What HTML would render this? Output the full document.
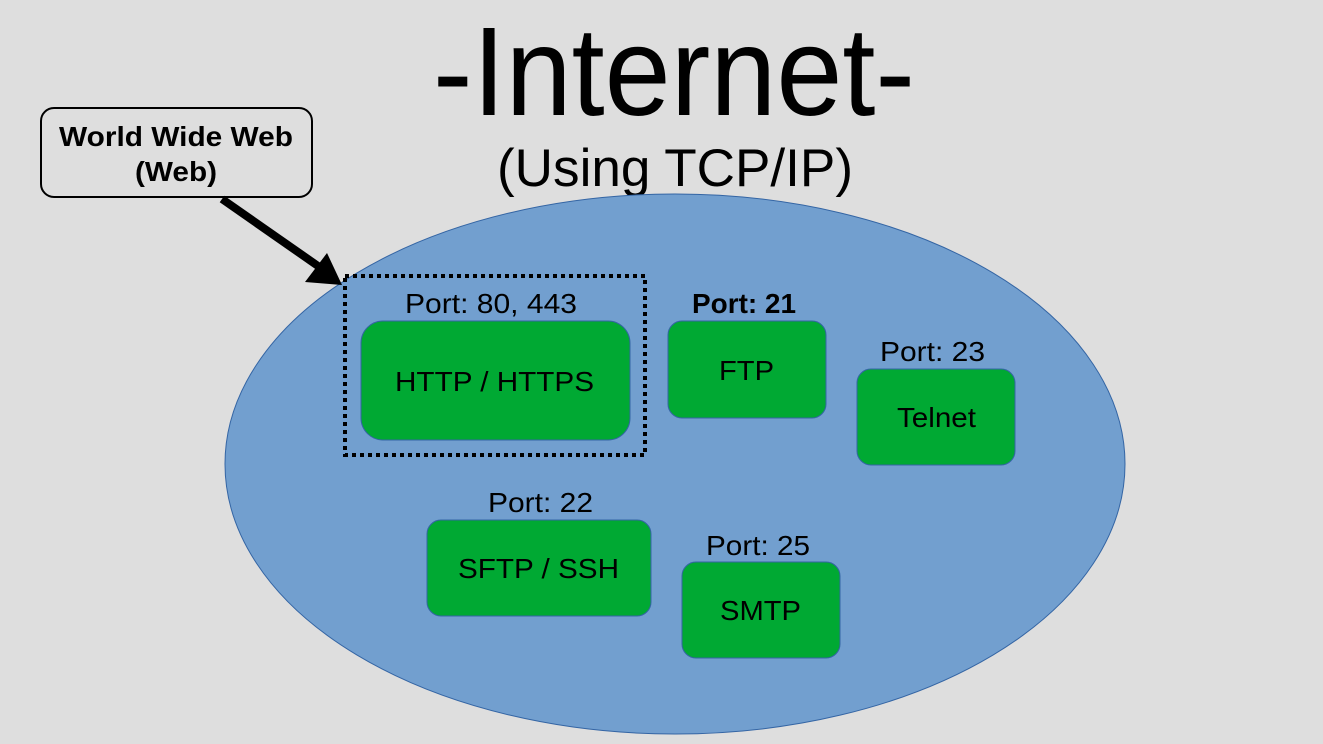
<!DOCTYPE html>
<html><head><style>html,body{margin:0;padding:0;background:#dedede;}svg{display:block}</style></head>
<body>
<svg width="1323" height="744" viewBox="0 0 1323 744" xmlns="http://www.w3.org/2000/svg" font-family="Liberation Sans Narrow, Liberation Sans, sans-serif">
<rect width="1323" height="744" fill="#dedede"/>
<text x="433" y="115" font-size="126" textLength="482" lengthAdjust="spacingAndGlyphs" fill="#000">-Internet-</text>
<text x="497" y="186" font-size="53" textLength="356" lengthAdjust="spacingAndGlyphs" fill="#000">(Using TCP/IP)</text>
<ellipse cx="675" cy="464" rx="450" ry="270" fill="#729fcf" stroke="#3465a4" stroke-width="1"/>
<rect x="41" y="108" width="271" height="89" rx="13" fill="#dedede" stroke="#000" stroke-width="2"/>
<text x="59" y="146" font-size="28" font-weight="bold" textLength="234" lengthAdjust="spacingAndGlyphs">World Wide Web</text>
<text x="135" y="181" font-size="28" font-weight="bold" textLength="82" lengthAdjust="spacingAndGlyphs">(Web)</text>
<line x1="222" y1="199" x2="318" y2="266" stroke="#000" stroke-width="8"/>
<polygon points="342,285 305,282 327,253" fill="#000"/>
<rect x="345" y="276" width="300" height="179" fill="none" stroke="#000" stroke-width="4" stroke-dasharray="4,4"/>
<g fill="#00a933" stroke="#3465a4" stroke-width="1">
<rect x="361" y="321" width="269" height="119" rx="22"/>
<rect x="668" y="321" width="158" height="97" rx="14"/>
<rect x="857" y="369" width="158" height="96" rx="14"/>
<rect x="427" y="520" width="224" height="96" rx="14"/>
<rect x="682" y="562" width="158" height="96" rx="14"/>
</g>
<g font-size="28" fill="#000" lengthAdjust="spacingAndGlyphs">
<text x="395" y="391" textLength="199" lengthAdjust="spacingAndGlyphs">HTTP / HTTPS</text>
<text x="719" y="380" textLength="55" lengthAdjust="spacingAndGlyphs">FTP</text>
<text x="897" y="427" textLength="79" lengthAdjust="spacingAndGlyphs">Telnet</text>
<text x="458" y="578" textLength="161" lengthAdjust="spacingAndGlyphs">SFTP / SSH</text>
<text x="720" y="620" textLength="81" lengthAdjust="spacingAndGlyphs">SMTP</text>
<text x="405" y="313" textLength="172" lengthAdjust="spacingAndGlyphs">Port: 80, 443</text>
<text x="692" y="313" font-weight="bold" textLength="104" lengthAdjust="spacingAndGlyphs">Port: 21</text>
<text x="880" y="361" textLength="105" lengthAdjust="spacingAndGlyphs">Port: 23</text>
<text x="488" y="512" textLength="105" lengthAdjust="spacingAndGlyphs">Port: 22</text>
<text x="706" y="555" textLength="104" lengthAdjust="spacingAndGlyphs">Port: 25</text>
</g>
</svg>
</body></html>
